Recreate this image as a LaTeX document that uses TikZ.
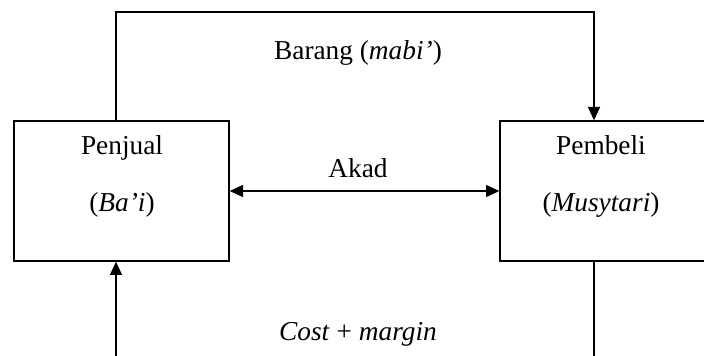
\documentclass[tikz,border=0pt]{standalone}
\usepackage{fontspec}
\setmainfont{Liberation Serif}
\usetikzlibrary{arrows.meta,positioning}

\begin{document}
\begin{tikzpicture}[
    x=0.75pt, y=-0.75pt,
    line width=1pt,
    party/.style={draw, minimum width=161.25pt, minimum height=105pt, inner sep=0pt},
    lbl/.style={font=\fontsize{20.5}{24}\selectfont, inner sep=0pt, anchor=base},
    flow/.style={-{Triangle[length=10pt,width=9pt]}},
    both/.style={{Triangle[length=10pt,width=9pt]}-{Triangle[length=10pt,width=9pt]}}
]
\clip (0,0) rectangle (704,356);

% parties
\node[party] (seller) at (121.5,191) {};
\node[party] (buyer)  at (607.5,191) {};

\node[lbl] (sellername) at (122,155) {Penjual};
\node[lbl] (sellerterm) at (122,212) {(\textit{Ba'i})};
\node[lbl] (buyername)  at (601,155) {Pembeli};
\node[lbl] (buyerterm)  at (601,212) {(\textit{Musytari})};

% flows
\coordinate (tl) at (116,12);
\coordinate (tr) at (594,12);
\coordinate (bl) at (116,362);
\coordinate (br) at (594,362);

\draw[flow] (seller.north -| tl) -- (tl) -- (tr) -- (buyer.north -| tr);
\draw[both] (seller.east) -- (buyer.west);
\draw (buyer.south -| br) -- (br);
\draw[flow] (bl) -- (seller.south -| bl);

\node[lbl] (goods)  at (358,60)  {Barang (\textit{mabi'})};
\node[lbl] (akad)   at (358,178) {Akad};
\node[lbl] (price)  at (358,340) {\textit{Cost} + \textit{margin}};
\end{tikzpicture}
\end{document}
